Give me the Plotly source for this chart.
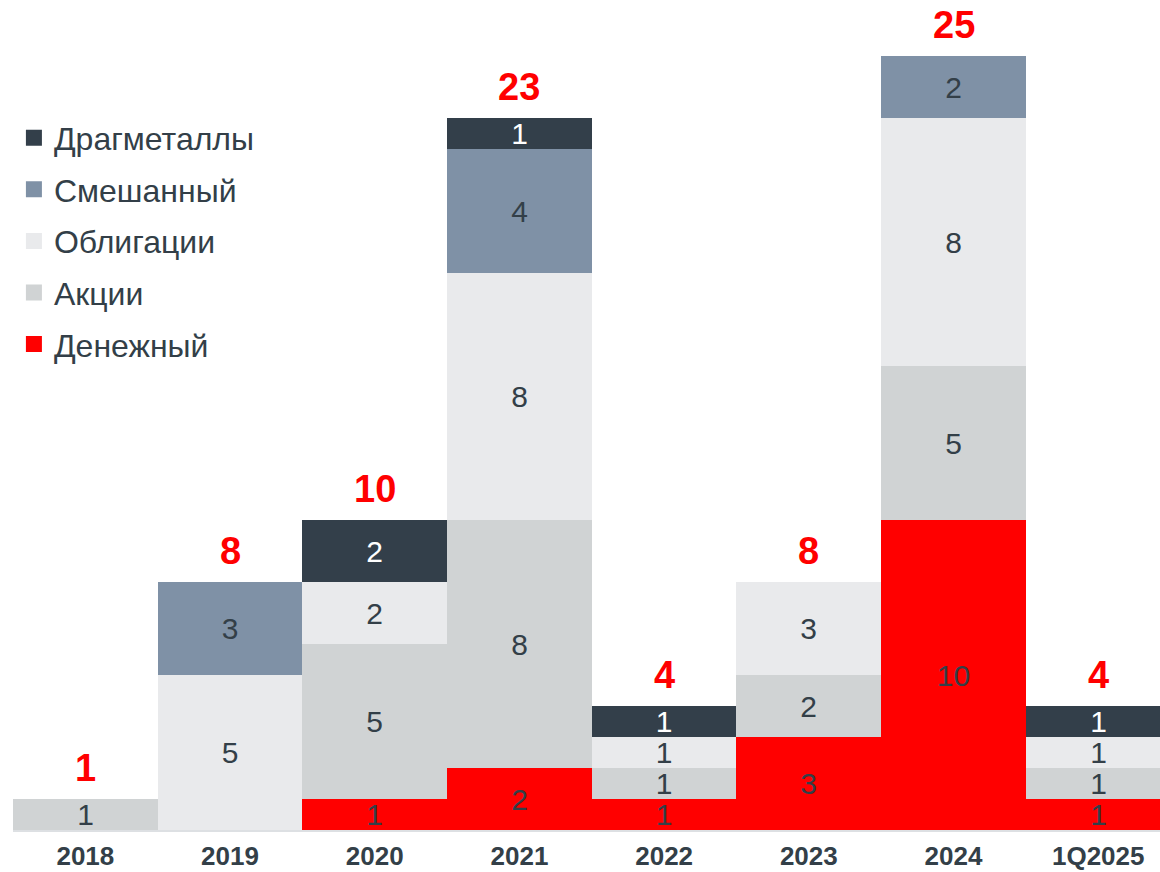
import plotly.graph_objects as go

categories = ["2018", "2019", "2020", "2021", "2022", "2023", "2024", "1Q2025"]

money = [None, None, 1, 2, 1, 3, 10, 1]        # Денежный
stocks = [1, None, 5, 8, 1, 2, 5, 1]           # Акции
bonds = [None, 5, 2, 8, 1, 3, 8, 1]            # Облигации
mixed = [None, 3, None, 4, None, None, 2, None]  # Смешанный
metals = [None, None, 2, 1, 1, None, None, 1]  # Драгметаллы

series = [
    ("Денежный", money, "#ff0000", "#333f48"),
    ("Акции", stocks, "#d0d3d4", "#333f48"),
    ("Облигации", bonds, "#e9eaec", "#333f48"),
    ("Смешанный", mixed, "#7f91a6", "#333f48"),
    ("Драгметаллы", metals, "#333f4a", "#ffffff"),
]

totals = [sum(v or 0 for v in vals) for vals in zip(money, stocks, bonds, mixed, metals)]

FONT = "Liberation Sans, Arial, sans-serif"
fig = go.Figure()

for name, vals, color, tcolor in series:
    fig.add_trace(go.Bar(
        x=categories, y=vals, name=name,
        marker=dict(color=color, line=dict(width=0)),
        text=[str(v) if v is not None else "" for v in vals],
        textposition="inside", insidetextanchor="middle",
        constraintext="none", textangle=0,
        textfont=dict(family=FONT, size=30, color=tcolor),
        showlegend=False, hoverinfo="skip",
    ))

# legend proxies (square markers), top-to-bottom order as in the reference
for name, vals, color, tcolor in reversed(series):
    fig.add_trace(go.Scatter(
        x=[None], y=[None], mode="markers", name=name,
        legendgroup=name,
        marker=dict(symbol="square", size=16, color=color),
        showlegend=True, hoverinfo="skip",
    ))

for i, tot in enumerate(totals):
    fig.add_annotation(
        x=i, y=tot, text=f"<b>{tot}</b>", showarrow=False,
        xref="x", yref="y",
        yanchor="middle", yshift=31,
        font=dict(family=FONT, size=38, color="#ff0000"),
    )

fig.update_layout(
    width=1160, height=872,
    barmode="stack", bargap=0,
    paper_bgcolor="white", plot_bgcolor="white",
    margin=dict(l=13, r=0, t=0, b=42, autoexpand=False),
    font=dict(family=FONT, color="#333f48"),
    legend=dict(
        x=0.0008, y=0.867, xanchor="left", yanchor="top",
        traceorder="grouped", tracegroupgap=7,
        font=dict(family=FONT, size=32, color="#333f48"),
        bgcolor="rgba(0,0,0,0)", itemwidth=30,
    ),
    xaxis=dict(
        type="category",
        range=[-0.5, 7.427], showgrid=False, zeroline=False,
        showline=True, linecolor="#dde0e3", linewidth=2,
        ticks="", tickfont=dict(family=FONT, size=26, color="#333f48", weight="bold"),
        ticklabelstandoff=2,
    ),
    yaxis=dict(
        range=[0, 26.81], visible=False, showgrid=False, zeroline=False,
    ),
)

fig.write_html("out.html", config={"displayModeBar": False},
               post_script="document.body.style.margin='0';")
